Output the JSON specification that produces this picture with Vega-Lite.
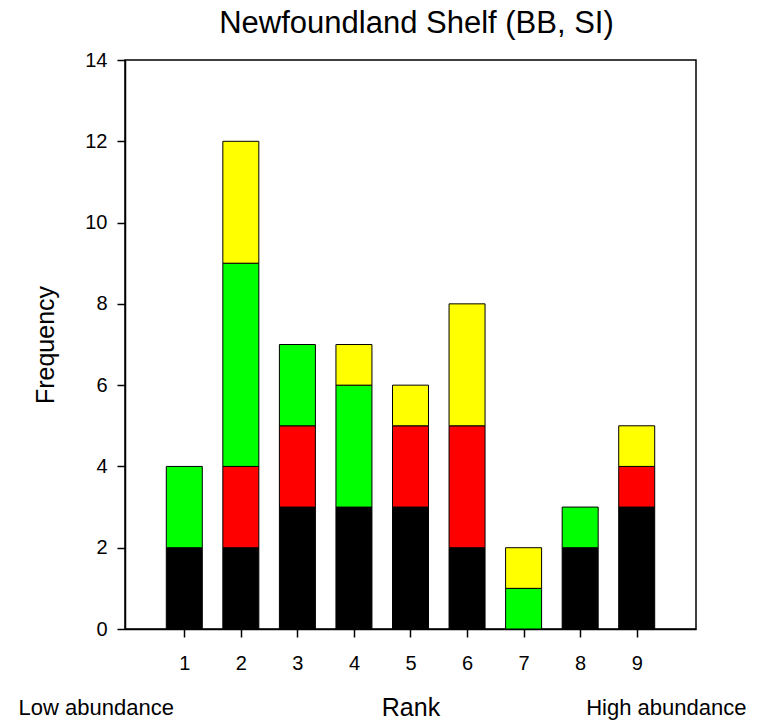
{
  "$schema": "https://vega.github.io/schema/vega-lite/v6.json",
  "autosize": "none",
  "padding": {"left": 125, "top": 60, "right": 61, "bottom": 95},
  "width": 571,
  "height": 569,
  "background": "white",
  "config": {
    "font": "Liberation Sans",
    "view": {"stroke": "#000000", "strokeWidth": 1.5},
    "axis": {
      "grid": false,
      "domainColor": "#000000",
      "domainWidth": 1.5,
      "tickColor": "#000000",
      "tickWidth": 1.5,
      "tickSize": 8,
      "labelColor": "#000000",
      "labelFontSize": 20,
      "labelFont": "Liberation Sans",
      "titleColor": "#000000",
      "titleFont": "Liberation Sans",
      "titleFontSize": 25,
      "titleFontWeight": "normal"
    }
  },
  "title": {
    "text": "Newfoundland Shelf (BB, SI)",
    "fontSize": 31,
    "fontWeight": "normal",
    "font": "Liberation Sans",
    "color": "#000000",
    "anchor": "middle",
    "offset": 10,
    "dx": 6
  },
  "datasets": {
    "bars": [
      {"rank": 1, "group": 1, "n": 2},
      {"rank": 1, "group": 3, "n": 2},
      {"rank": 2, "group": 1, "n": 2},
      {"rank": 2, "group": 2, "n": 2},
      {"rank": 2, "group": 3, "n": 5},
      {"rank": 2, "group": 4, "n": 3},
      {"rank": 3, "group": 1, "n": 3},
      {"rank": 3, "group": 2, "n": 2},
      {"rank": 3, "group": 3, "n": 2},
      {"rank": 4, "group": 1, "n": 3},
      {"rank": 4, "group": 3, "n": 3},
      {"rank": 4, "group": 4, "n": 1},
      {"rank": 5, "group": 1, "n": 3},
      {"rank": 5, "group": 2, "n": 2},
      {"rank": 5, "group": 4, "n": 1},
      {"rank": 6, "group": 1, "n": 2},
      {"rank": 6, "group": 2, "n": 3},
      {"rank": 6, "group": 4, "n": 3},
      {"rank": 7, "group": 3, "n": 1},
      {"rank": 7, "group": 4, "n": 1},
      {"rank": 8, "group": 1, "n": 2},
      {"rank": 8, "group": 3, "n": 1},
      {"rank": 9, "group": 1, "n": 3},
      {"rank": 9, "group": 2, "n": 1},
      {"rank": 9, "group": 4, "n": 1}
    ],
    "notes": [
      {"label": "Low abundance", "rank": -1.93, "n": -2.12, "side": "left"},
      {"label": "High abundance", "rank": 10.94, "n": -2.12, "side": "right"}
    ]
  },
  "layer": [
    {
      "data": {"name": "bars"},
      "mark": {"type": "bar", "width": 36, "stroke": "#000000", "strokeWidth": 1},
      "encoding": {
        "x": {
          "field": "rank",
          "type": "quantitative",
          "scale": {"domain": [0.04, 9.96], "nice": false, "zero": false},
          "axis": {"values": [1, 2, 3, 4, 5, 6, 7, 8, 9], "format": "d", "title": "Rank", "labelPadding": 16, "titlePadding": 22},
          "title": "Rank"
        },
        "y": {
          "aggregate": "sum",
          "field": "n",
          "type": "quantitative",
          "stack": "zero",
          "scale": {"domain": [0, 14], "nice": false},
          "axis": {"values": [0, 2, 4, 6, 8, 10, 12, 14], "format": "d", "title": "Frequency", "labelPadding": 10, "titlePadding": 26},
          "title": "Frequency"
        },
        "color": {
          "field": "group",
          "type": "ordinal",
          "scale": {"domain": [1, 2, 3, 4], "range": ["#000000", "#ff0000", "#00ff00", "#ffff00"]},
          "legend": null
        },
        "order": {"field": "group", "type": "quantitative", "sort": "ascending"}
      }
    },
    {
      "data": {"name": "notes"},
      "transform": [{"filter": "datum.side === 'left'"}],
      "mark": {"type": "text", "align": "left", "baseline": "alphabetic", "fontSize": 22, "font": "Liberation Sans", "color": "#000000", "clip": false},
      "encoding": {
        "x": {"field": "rank", "type": "quantitative", "title": "Rank"},
        "y": {"field": "n", "type": "quantitative", "title": "Frequency"},
        "text": {"field": "label"}
      }
    },
    {
      "data": {"name": "notes"},
      "transform": [{"filter": "datum.side === 'right'"}],
      "mark": {"type": "text", "align": "right", "baseline": "alphabetic", "fontSize": 22, "font": "Liberation Sans", "color": "#000000", "clip": false},
      "encoding": {
        "x": {"field": "rank", "type": "quantitative", "title": "Rank"},
        "y": {"field": "n", "type": "quantitative", "title": "Frequency"},
        "text": {"field": "label"}
      }
    }
  ]
}
